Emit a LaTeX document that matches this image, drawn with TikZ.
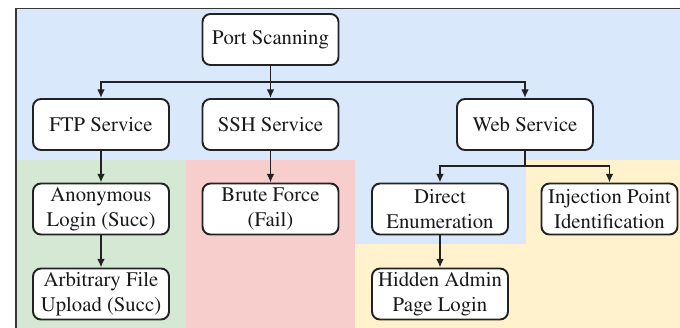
\documentclass[tikz,border=0pt]{standalone}
\usepackage[T1]{fontenc}
\usepackage{mathptmx}
\usetikzlibrary{arrows.meta}
\definecolor{bgblue}{HTML}{DAE8FC}
\definecolor{bggreen}{HTML}{D5E8D4}
\definecolor{bgred}{HTML}{F8CECC}
\definecolor{bgyellow}{HTML}{FFF2CC}
\definecolor{edge}{HTML}{222222}
\begin{document}
\begin{tikzpicture}[x=0.02cm,y=-0.02cm,
    box/.style={draw=edge, fill=white, line width=1.1pt, rounded corners=0.16cm,
      minimum width=2.72cm, minimum height=1.02cm, inner sep=1pt, align=center,
      font=\fontsize{11.8}{14.4}\selectfont, text=black!90},
    arr/.style={draw=edge, line width=1pt, -{Latex[length=5pt,width=4.5pt]}},
    link/.style={draw=edge, line width=1pt}]
    \useasboundingbox (0,0) rectangle (680,328);
    \clip (0,0) rectangle (680,328);

    % coloured areas
    \fill[bgblue] (16,8) rectangle (690,160);
    \fill[bggreen] (16,160) rectangle (186,340);
    \fill[bgred] (186,160) rectangle (355,340);
    \fill[bgyellow] (355,160) rectangle (690,340);
    \fill[bgblue] (355,160) rectangle (526,244);
    \draw[edge!90, line width=1pt] (16,340) -- (16,8.5) -- (690,8.5);

    \node[box] (PS) at (270.5,39.5) {Port Scanning};
    \node[box] (FTP) at (101,124.5) {FTP Service};
    \node[box] (SSH) at (270.5,124.5) {SSH Service};
    \node[box] (Web) at (525,124.5) {Web Service};

    \node[box] (Anon) at (101,209) {Anonymous\\Login (Succ)};
    \node[box] (Brute) at (270.5,209) {Brute Force\\(Fail)};
    \node[box] (Enum) at (440,209) {Direct\\Enumeration};
    \node[box] (Inj) at (609.5,209) {Injection Point\\Identification};

    \node[box] (Upload) at (101,294) {Arbitrary File\\Upload (Succ)};
    \node[box] (Admin) at (440,294) {Hidden Admin\\Page Login};

    \coordinate (J1) at (270.5,82);
    \coordinate (J2) at (525,166);

    \draw[arr] (PS) -- (SSH);
    \draw[arr] (J1) -| (FTP);
    \draw[arr] (J1) -| (Web);

    \draw[arr] (FTP) -- (Anon);
    \draw[arr] (SSH) -- (Brute);
    \draw[link] (Web) -- (J2);
    \draw[arr] (J2) -| (Enum);
    \draw[arr] (J2) -| (Inj);

    \draw[arr] (Anon) -- (Upload);
    \draw[arr] (Enum) -- (Admin);
\end{tikzpicture}
\end{document}
